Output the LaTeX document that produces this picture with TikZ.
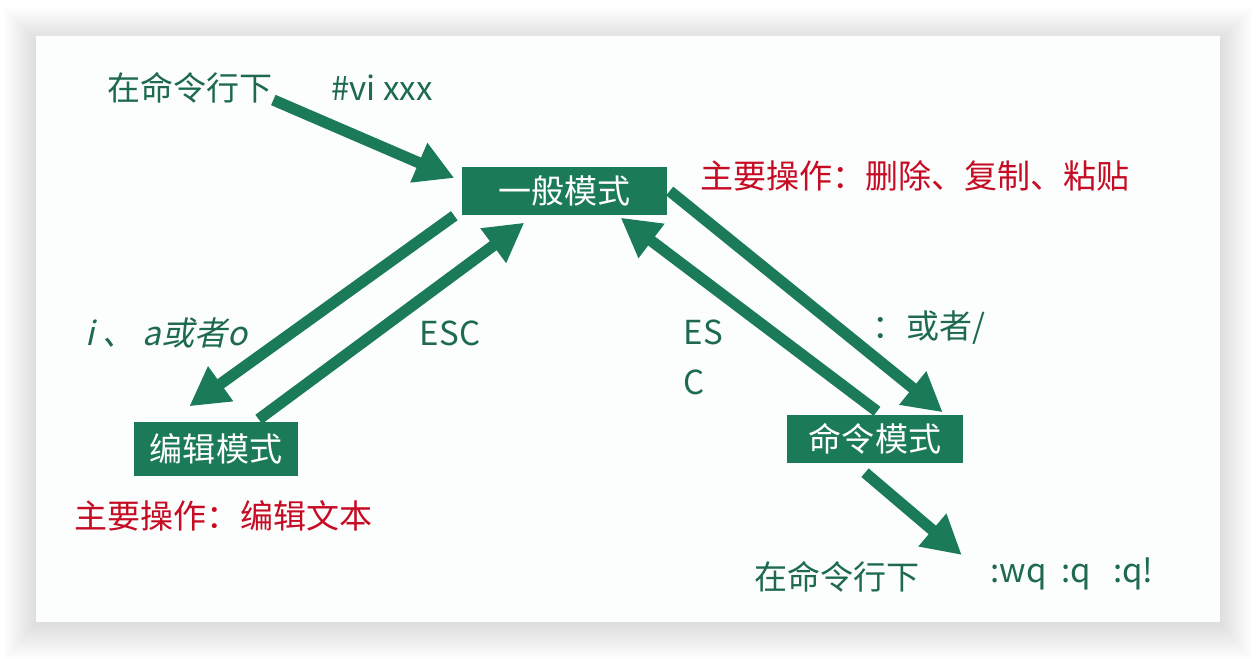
\documentclass[tikz,border=0pt]{standalone}
\usepackage{fontspec}
\setmainfont{Noto Sans CJK SC}
\newfontfamily\cjkslant[FakeSlant=0.22]{Noto Sans CJK SC}
\usepackage{tikz}
\usetikzlibrary{arrows.meta,positioning,calc}
\definecolor{vigreen}{RGB}{27,122,87}
\definecolor{txtgreen}{RGB}{30,106,78}
\definecolor{opred}{RGB}{198,12,36}
\definecolor{cardbg}{RGB}{252,254,253}
\tikzset{
  mode/.style={fill=vigreen,text=white,inner sep=0pt,
               font=\fontsize{9.4}{11}\selectfont,minimum height=0.48cm},
  lbl/.style={text=txtgreen,inner sep=0pt,font=\fontsize{9.4}{11}\selectfont},
  oplbl/.style={lbl,text=opred},
  arr/.style={-{Triangle[length=11pt,width=11.5pt]},line width=3.2pt,draw=vigreen},
}

\begin{document}
\begin{tikzpicture}
\useasboundingbox (0,0) rectangle (12.56,-6.58);

%% ---------- card with soft shadow ----------
\fill[white] (0,0) rectangle (12.56,-6.58);
\foreach \g in {1,...,16}
  \fill[black,opacity=0.009] ({0.36-\g*0.02},{-0.40+\g*0.02})
    rectangle ({12.20+\g*0.02},{-6.24-\g*0.022});
\fill[cardbg] (0.36,-0.36) rectangle (12.20,-6.22);

%% ---------- modes ----------
\node[mode,minimum width=2.05cm] (gen) at (5.645,-1.91) {一般模式};
\node[mode,minimum width=1.64cm,minimum height=0.54cm] (edit) at (2.16,-4.49) {编辑模式};
\node[mode,minimum width=1.76cm] (cmd) at (8.75,-4.39) {命令模式};

%% ---------- labels ----------
\node[lbl] (shell) at (1.90,-0.88) {在命令行下};
\node[lbl] (vicmd) at (3.82,-0.88) {\#vi xxx};
\node[oplbl] (genop) at (9.15,-1.76) {主要操作：删除、复制、粘贴};
\node[oplbl] (editop) at (2.235,-5.16) {主要操作：编辑文本};
\node[lbl,font=\fontsize{9.4}{11}\cjkslant] (insert) at (1.665,-3.33) {i\ 、\ a或者o};
\node[lbl] (escl) at (4.50,-3.33) {ESC};
\node[lbl,align=left,anchor=west,font=\fontsize{9.4}{14.2}\selectfont]
  (escr) at (6.83,-3.57) {ES\\C};
\node[lbl] (colon) at (9.29,-3.28) {：或者/};
\node[lbl] (shell2) at (8.37,-5.77) {在命令行下};
\node[lbl] (quit) at (10.72,-5.74) {:wq\ \ :q\ \ \ :q!};

%% main flow arrows
\draw[arr] ($(shell.east)+(0,-0.12)$) -- ($(gen.west)+(-0.07,0.13)$);
\draw[arr] ($(gen.south west)+(-0.07,0)$) -- ($(edit.north west)+(0.56,0.15)$);
\draw[arr] ($(edit.north east)+(-0.40,0.02)$) -- ($(gen.south west)+(0.63,-0.07)$);
\draw[arr] ($(cmd.north)+(0.02,0.03)$) -- ($(gen.south east)+(-0.47,-0.02)$);
\draw[arr] ($(gen.east)+(0.02,0)$) -- ($(cmd.north east)+(-0.21,0.02)$);
\draw[arr] ($(cmd.south)+(-0.10,-0.09)$) -- ($(quit.west)+(-0.28,0.19)$);
\end{tikzpicture}
\end{document}
